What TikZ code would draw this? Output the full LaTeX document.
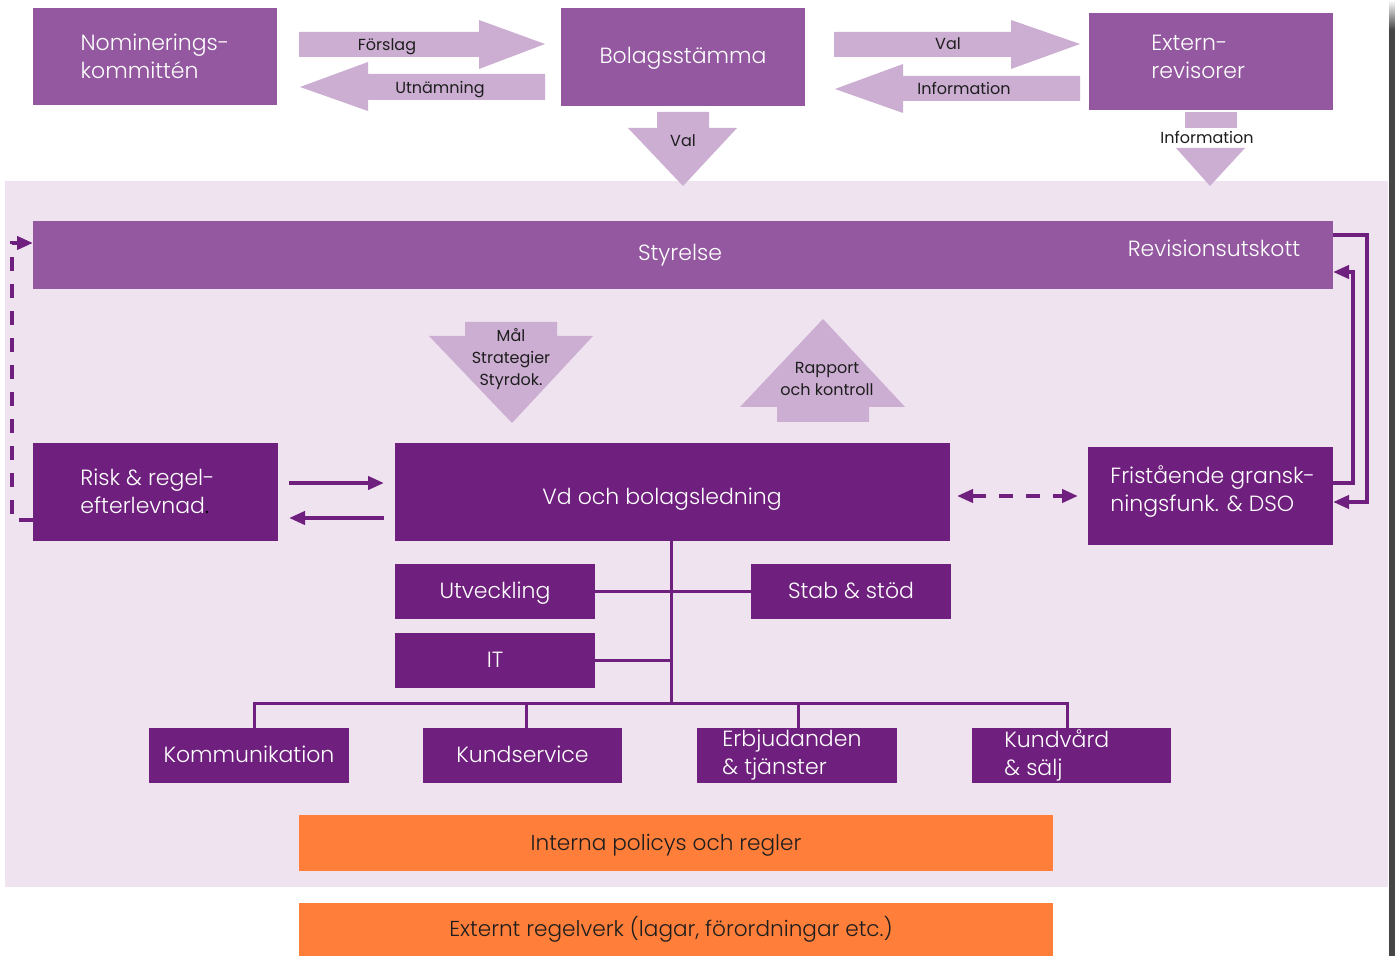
\documentclass[tikz,border=0pt]{standalone}
\usepackage{fontspec}
\IfFontExistsTF{Poppins Light}{\setmainfont{Poppins Light}}{\setmainfont{Poppins}}
\newfontfamily\arrowlabelfont{Poppins}
\usetikzlibrary{arrows.meta,calc}
\definecolor{medpurple}{HTML}{93589F}
\definecolor{darkpurple}{HTML}{6F1F7D}
\definecolor{lightpurple}{HTML}{CCAED3}
\definecolor{panelbg}{HTML}{EEE3EF}
\definecolor{orangebox}{HTML}{FF7F3A}
\definecolor{stripgray}{HTML}{454545}
\definecolor{labeltext}{HTML}{1E1E1E}
\newcommand\rbox[7]{\node[#6, minimum width={(#4-#2)*0.5pt}, minimum height={(#5-#3)*0.5pt}] (#1) at ({(#2+#4)/2},{(#3+#5)/2}) {#7};}
\tikzset{
  basebox/.style={inner sep=0pt, outer sep=0pt, text=white, align=center, font=\fontsize{11}{14}\selectfont},
  oneline/.style={text height=0.9em, text depth=0.2em},
  mbox/.style={basebox, fill=medpurple},
  dbox/.style={basebox, fill=darkpurple},
  obox/.style={basebox, fill=orangebox},
  otext/.style={text=labeltext, inner sep=0pt, font=\fontsize{10.8}{13}\selectfont},
  wtext/.style={text=white, inner sep=0pt, align=left, font=\fontsize{11}{14}\selectfont},
  blockarrow/.style={fill=lightpurple},
  alabel/.style={text=labeltext, inner sep=0pt, align=center, font=\arrowlabelfont\fontsize{8}{11}\selectfont},
  tree/.style={draw=darkpurple, line width=1.5pt},
  conn/.style={draw=darkpurple, line width=2pt},
  arrowtip/.style={-{Triangle[length=8pt,width=6.5pt]}},
  dashline/.style={dash pattern=on 7pt off 6.5pt}
}
\begin{document}
\begin{tikzpicture}[x=0.5pt,y=-0.5pt]
\useasboundingbox (0,0) rectangle (1395,956);
\fill[white] (0,0) rectangle (1395,956);
\fill[panelbg] (5,181) rectangle (1388,887);
\shade[top color=white, bottom color=stripgray] (1389,0) rectangle (1395,30);
\fill[stripgray] (1389,30) rectangle (1395,956);

% top row boxes
\rbox{nom}{33}{8}{277}{105}{mbox,align=left}{Nominerings-\\kommittén}
\rbox{bol}{561}{8}{805}{106}{mbox,oneline}{Bolagsstämma}
\rbox{ext}{1089}{13}{1333}{110}{mbox}{}
\node[wtext, anchor=west] (lext) at (1151,57) {Extern-\\revisorer};

% top block arrows
\fill[blockarrow] (299,32) -- (479,32) -- (479,20) -- (545,44) -- (479,69) -- (479,57) -- (299,57) -- cycle;
\node[alabel,oneline] (lforslag) at (387,44) {Förslag};
\fill[blockarrow] (545,74) -- (368,74) -- (368,62) -- (300,87) -- (368,111) -- (368,100) -- (545,100) -- cycle;
\node[alabel,oneline] (lutn) at (440,87) {Utnämning};
\fill[blockarrow] (834,32) -- (1011,32) -- (1011,20) -- (1080,44) -- (1011,69) -- (1011,57) -- (834,57) -- cycle;
\node[alabel,oneline] (lval) at (948,43) {Val};
\fill[blockarrow] (1080,76) -- (903,76) -- (903,64) -- (835,89) -- (903,113) -- (903,101) -- (1080,101) -- cycle;
\node[alabel,oneline] (linfo) at (964,88) {Information};
\fill[blockarrow] (657,112) -- (709,112) -- (709,128) -- (737,128) -- (683,186) -- (628,128) -- (657,128) -- cycle;
\node[alabel,oneline] (lval2) at (683,140) {Val};
\fill[blockarrow] (1185,112) rectangle (1237,128);
\fill[blockarrow] (1176,148) -- (1245,148) -- (1210,186) -- cycle;
\node[alabel,oneline] (linfo2) at (1207,137) {Information};

% Styrelse
\rbox{styr}{33}{221}{1333}{289}{mbox}{}
\node[wtext,oneline] (lstyr) at (680,254) {Styrelse};
\node[wtext,oneline] (lrev) at (1214,250) {Revisionsutskott};

% middle block arrows
\fill[blockarrow] (465,322) -- (557,322) -- (557,336) -- (593,336) -- (512,423) -- (429,336) -- (465,336) -- cycle;
\node[alabel] (lmal) at (511,359) {Mål\\Strategier\\Styrdok.};
\fill[blockarrow] (823,319) -- (905,407) -- (869,407) -- (869,422) -- (777,422) -- (777,407) -- (740,407) -- cycle;
\node[alabel] (lrap) at (827,379) {Rapport\\och kontroll};

% main boxes
\rbox{risk}{33}{443}{278}{541}{dbox}{}
\node[wtext, anchor=west] (lrisk) at (80,491) {Risk \& regel-\\efterlevnad{\color{black}.}};
\rbox{vd}{395}{443}{950}{541}{dbox}{}
\node[wtext,oneline] (lvd) at (662,497) {Vd och bolagsledning};
\rbox{fri}{1088}{447}{1333}{545}{dbox}{}
\node[wtext, anchor=west] (lfri) at (1110,492) {Fristående gransk-\\ningsfunk. \& DSO};

\rbox{utv}{395}{564}{595}{619}{dbox,oneline}{Utveckling}
\rbox{stab}{751}{564}{951}{619}{dbox,oneline}{Stab \& stöd}
\rbox{it}{395}{633}{595}{688}{dbox,oneline}{IT}

\rbox{kom}{149}{728}{349}{783}{dbox,oneline}{Kommunikation}
\rbox{ks}{423}{728}{622}{783}{dbox,oneline}{Kundservice}
\rbox{erb}{697}{728}{897}{783}{dbox}{}
\node[wtext, anchor=west] (lerb) at (722,755) {Erbjudanden\\\& tjänster};
\rbox{kv}{972}{728}{1171}{783}{dbox}{}
\node[wtext, anchor=west] (lkv) at (1004,755) {Kundvård\\\& sälj};

\rbox{intern}{299}{815}{1053}{871}{obox}{}
\node[otext,oneline] (lintern) at (666,843) {Interna policys och regler};
\rbox{extern}{299}{903}{1053}{956}{obox}{}
\node[otext,oneline] (lextern) at (671,929) {Externt regelverk (lagar, förordningar etc.)};

% tree
\coordinate (t1) at (671,703);
\draw[tree] (vd.south -| t1) -- (t1);
\draw[tree] (utv.east) -- (stab.west);
\draw[tree] (it.east) -- (it.east -| t1);
\draw[tree] ($(kom.north)+(5,0)$) -- ($(kom.north |- t1)+(5,0)$) -- ($(kv.north |- t1)+(-4,0)$) -- ($(kv.north)+(-4,0)$);
\draw[tree] ($(ks.north)+(4,0)$) -- ($(ks.north |- t1)+(4,0)$);
\draw[tree] ($(erb.north)+(1,0)$) -- ($(erb.north |- t1)+(1,0)$);

% connectors
\draw[conn,arrowtip] ($(risk.east)+(11,-9)$) -- ($(vd.west)+(-11,-9)$);
\draw[conn,arrowtip] ($(vd.west)+(-11,26)$) -- ($(risk.east)+(11,26)$);
\draw[conn,dashline,{Triangle[length=8pt,width=6.5pt]}-{Triangle[length=8pt,width=6.5pt]}] ($(vd.east)+(7,4)$) -- ($(fri.west)+(-10,0)$);
\draw[conn,dashline,arrowtip] ($(risk.west)+(0,28)$) -- ($(risk.west)+(-21,28)$) |- ($(styr.west)+(0,-12)$);
\draw[conn,arrowtip] ($(styr.east)+(0,-20)$) -- ++(34,0) |- ($(fri.east)+(0,6)$);
\draw[conn,arrowtip] ($(fri.east)+(0,-13)$) -- ++(20,0) |- ($(styr.east)+(0,17)$);
\end{tikzpicture}
\end{document}
